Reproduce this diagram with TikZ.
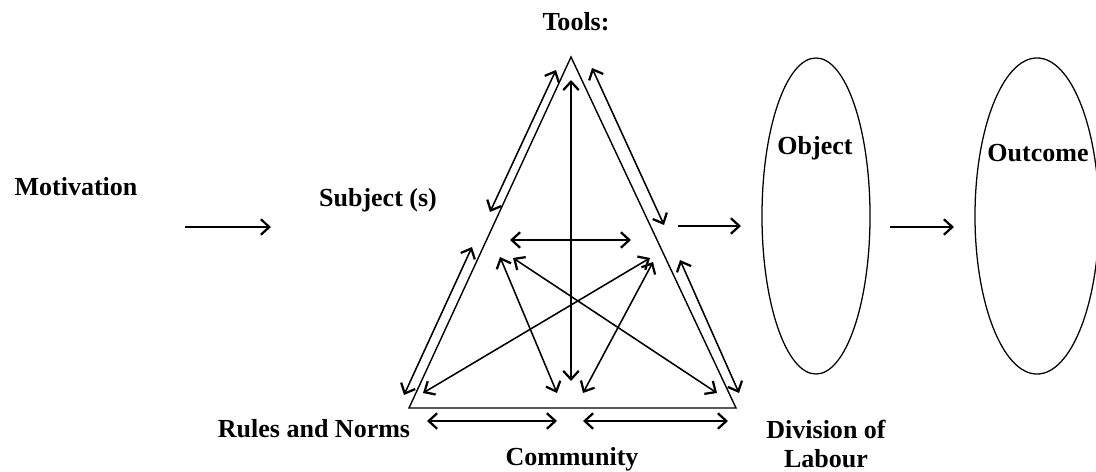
\documentclass[tikz,border=0pt]{standalone}
\usepackage{fontspec}
\setmainfont{Liberation Serif}
\usetikzlibrary{arrows.meta,positioning,shapes.geometric}

\begin{document}
\begin{tikzpicture}[x=0.025cm,y=-0.025cm,>={Straight Barb[length=6pt,width=11pt,line width=1.6pt]},
  lbl/.style={font=\bfseries\fontsize{18.5}{21}\selectfont,inner sep=0pt},
  oval/.style={draw,ellipse,inner sep=0pt,line width=0.9pt,minimum height=7.9cm},
  arr/.style={<->,line width=1.1pt}]
\useasboundingbox (0,0) rectangle (1096,472);
% labels
\node[lbl] (mot) at (76,187) {Motivation};
\node[lbl] (subj) at (378,200) {Subject (s)};
\node[lbl] (tools) at (576,22) {Tools:};
\node[lbl] (rules) at (314,429) {Rules and Norms};
\node[lbl] (comm) at (572,459) {Community};
\node[lbl,align=center] (div) at (826,444) {Division of\\Labour};
% triangle
\coordinate (top) at (571,57);
\coordinate (bl) at (409,408);
\coordinate (br) at (736,408);
\draw[line width=1pt] (top)--(bl)--(br)--cycle;
% arrows beside the sides
\coordinate (l1a) at (556,70);  \coordinate (l1b) at (490,212);
\coordinate (l2a) at (472,247); \coordinate (l2b) at (404,395);
\coordinate (r1a) at (592,68);  \coordinate (r1b) at (664,225);
\coordinate (r2a) at (680,260); \coordinate (r2b) at (739,393);
\coordinate (b1a) at (427,421); \coordinate (b1b) at (557,421);
\coordinate (b2a) at (583,421); \coordinate (b2b) at (728,421);
\draw[arr] (l1a)--(l1b);
\draw[arr] (l2a)--(l2b);
\draw[arr] (r1a)--(r1b);
\draw[arr] (r2a)--(r2b);
\draw[arr] (b1a)--(b1b);
\draw[arr] (b2a)--(b2b);
% arrows inside
\coordinate (v1) at (571,80);   \coordinate (v2) at (571,381);
\coordinate (h1) at (510,240);  \coordinate (h2) at (631,240);
\coordinate (sa) at (500,257);  \coordinate (sb) at (513,258);
\coordinate (oa) at (650,258);  \coordinate (ob) at (653,262);
\coordinate (ra) at (423,393);  \coordinate (ca) at (557,393);
\coordinate (cb) at (583,393);  \coordinate (da) at (717,393);
\draw[arr] (v1)--(v2);
\draw[arr] (h1)--(h2);
\draw[arr] (sa)--(ca);
\draw[arr] (sb)--(da);
\draw[arr] (oa)--(ra);
\draw[arr] (ob)--(cb);
% object and outcome
\node[oval,minimum width=2.7cm] (obj) at (816,216) {};
\node[oval,minimum width=3.1cm] (out) at (1037,216) {};
\node[lbl] (objt) at (815,148) {Object};
\node[lbl] (outt) at (1038,153) {Outcome};
\coordinate (m1) at (185,227); \coordinate (m2) at (271,227);
\coordinate (t1) at (678,226); \coordinate (t2) at (741,226);
\coordinate (o1) at (890,227); \coordinate (o2) at (954,227);
\draw[->,line width=1.1pt] (m1)--(m2);
\draw[->,line width=1.1pt] (t1)--(t2);
\draw[->,line width=1.1pt] (o1)--(o2);
\end{tikzpicture}
\end{document}
